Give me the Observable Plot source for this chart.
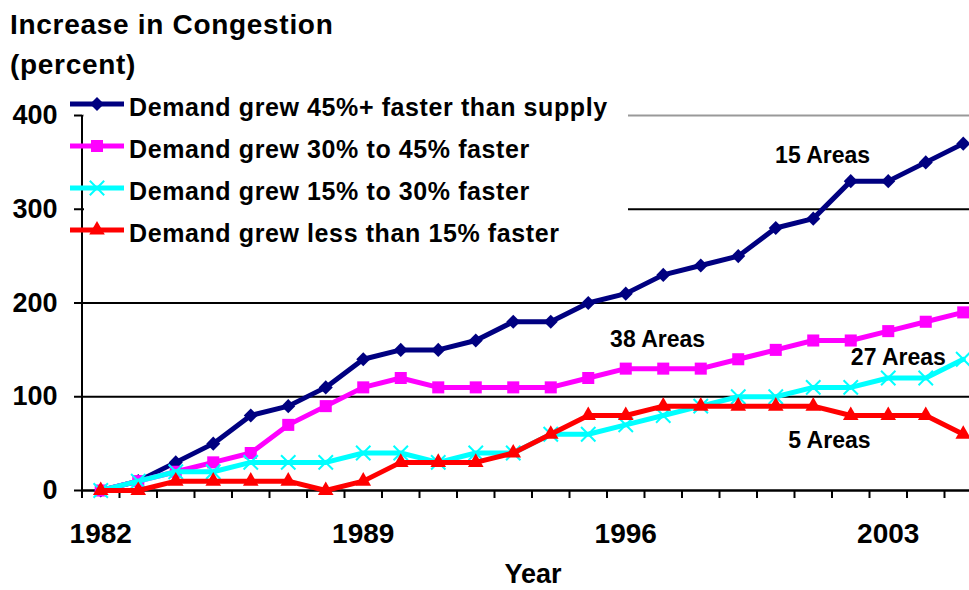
<!DOCTYPE html>
<html><head><meta charset="utf-8">
<script src="https://cdn.jsdelivr.net/npm/d3@7"></script>
<script src="https://cdn.jsdelivr.net/npm/@observablehq/plot@0.6"></script>
<style>
body{margin:0;background:#fff;font-family:"Liberation Sans",Arial,sans-serif;}
#wrap{position:relative;width:969px;height:590px;overflow:hidden;background:#fff;}
.ttl{position:absolute;left:10px;font-size:28px;font-weight:bold;line-height:28px;letter-spacing:0.7px;white-space:nowrap;color:#000;}
#chart{position:absolute;left:0;top:80px;}
#legend{position:absolute;left:0;top:0;}
</style></head><body>
<div id="wrap">
  <div class="ttl" style="top:11px">Increase in Congestion</div>
  <div class="ttl" style="top:51px">(percent)</div>
  <div id="chart"></div>
  <svg id="legend" width="640" height="260"></svg>
</div>
<script>
const years = [1982,1983,1984,1985,1986,1987,1988,1989,1990,1991,1992,1993,1994,1995,1996,1997,1998,1999,2000,2001,2002,2003,2004,2005];
const grew45plus = [0,10,30,50,80,90,110,140,150,150,160,180,180,200,210,230,240,250,280,290,330,330,350,370];
const grew30to45 = [0,10,20,30,40,70,90,110,120,110,110,110,110,120,130,130,130,140,150,160,160,170,180,190];
const grew15to30 = [0,10,20,20,30,30,30,40,40,30,40,40,60,60,70,80,90,100,100,110,110,120,120,140];
const grewUnder15 = [0,0,10,10,10,10,0,10,30,30,30,40,60,80,80,90,90,90,90,90,80,80,80,60];
const seriesNames = ["Demand grew 45%+ faster than supply","Demand grew 30% to 45% faster","Demand grew 15% to 30% faster","Demand grew less than 15% faster"];
const seriesColors = ["#000080","#FF00FF","#00FFFF","#FF0000"];
const yTicks = [0,100,200,300,400];
const xLabelTicks = [1982,1989,1996,2003];
const annLabels = ["15 Areas","38 Areas","27 Areas","5 Areas"];
const annX = [2001.25,1996.85,2003.27,2001.43];
const annY = [357,161,142,53];

const seriesValues = [grew45plus, grew30to45, grew15to30, grewUnder15];
const rows = seriesValues.map((vals, i) => years.map((yr, j) => ({year: yr, value: vals[j], series: seriesNames[i]})));
const boundaries = years.map(y => y - 0.5).concat([years[years.length-1] + 0.5]);
const annotations = annLabels.map((t, i) => ({text: t, x: annX[i], y: annY[i]}));

const dotStyles = [
  {symbol: "square", rotate: 45, r: 5.6, fill: seriesColors[0]},
  {symbol: "square", r: 6.8, fill: seriesColors[1]},
  {symbol: "times", r: 6.6, stroke: seriesColors[2], strokeWidth: 2, fill: "none"},
  {symbol: "triangle", r: 5.8, fill: seriesColors[3]}
];

const marks = [
  Plot.ruleY([100,200,300], {stroke: "#000", strokeWidth: 2}),
  Plot.ruleY([400], {stroke: "#999", strokeWidth: 2}),
  Plot.axisY(yTicks, {tickSize: 8, tickPadding: 17, fontSize: 27, fontWeight: "bold", fill: "#000", stroke: "#000", strokeWidth: 2, label: null}),
  Plot.axisX(boundaries, {tickSize: 8, tickFormat: () => "", stroke: "#000", strokeWidth: 2, label: null}),
  Plot.axisX(xLabelTicks, {tickSize: 0, tickPadding: 33, tickFormat: d => String(d), fontSize: 28, fontWeight: "bold", fill: "#000", label: null}),
  Plot.ruleX([years[0] - 0.5], {y1: 0, y2: 400, stroke: "#000", strokeWidth: 2}),
  Plot.ruleY([0], {stroke: "#000", strokeWidth: 2.5})
];
rows.forEach((data, i) => {
  marks.push(Plot.line(data, {x: "year", y: "value", stroke: seriesColors[i], strokeWidth: 5, strokeLinejoin: "round"}));
  marks.push(Plot.dot(data, {x: "year", y: "value", ...dotStyles[i]}));
});
marks.push(Plot.text(annotations, {x: "x", y: "y", text: "text", fontSize: 23, fontWeight: "bold", fill: "#000", textAnchor: "middle"}));
marks.push(Plot.text(["Year"], {frameAnchor: "bottom", lineAnchor: "middle", text: d => d, dx: 7, dy: 84, fontSize: 27, fontWeight: "bold", fill: "#000"}));

const chart = Plot.plot({
  width: 969,
  height: 510,
  marginTop: 35,
  marginBottom: 100,
  marginLeft: 82,
  marginRight: 0,
  style: {fontFamily: "'Liberation Sans', Arial, sans-serif", background: "#fff", overflow: "visible"},
  x: {type: "linear", domain: [years[0] - 0.5, years[years.length-1] + 0.5], range: [81.5, 981.5]},
  y: {domain: [0, 400], range: [410, 35]},
  marks
});
document.getElementById("chart").appendChild(chart);

// Legend (overlaps the plot, as in the original)
const lg = d3.select("#legend");
lg.append("rect").attr("x", 84).attr("y", 90).attr("width", 544).attr("height", 162).attr("fill", "#fff");
const symbols = [d3.symbolSquare, d3.symbolSquare, d3.symbolTimes, d3.symbolTriangle];
seriesNames.forEach((name, i) => {
  const cy = 104 + 42 * i;
  const g = lg.append("g");
  g.append("line").attr("x1", 70).attr("x2", 124).attr("y1", cy).attr("y2", cy)
    .attr("stroke", seriesColors[i]).attr("stroke-width", 5);
  const st = dotStyles[i];
  const path = d3.symbol(symbols[i], Math.PI * st.r * st.r)();
  const p = g.append("path").attr("d", path)
    .attr("transform", `translate(97,${cy})${st.rotate ? ` rotate(${st.rotate})` : ""}`);
  if (st.symbol === "times") p.attr("fill", "none").attr("stroke", seriesColors[i]).attr("stroke-width", 2);
  else p.attr("fill", seriesColors[i]);
  g.append("text").attr("x", 129).attr("y", cy + 3 + 9)
    .attr("font-size", 25).attr("font-weight", "bold").attr("letter-spacing", 0.6)
    .attr("font-family", "'Liberation Sans', Arial, sans-serif").attr("fill", "#000").text(name);
});
</script>
</body></html>
